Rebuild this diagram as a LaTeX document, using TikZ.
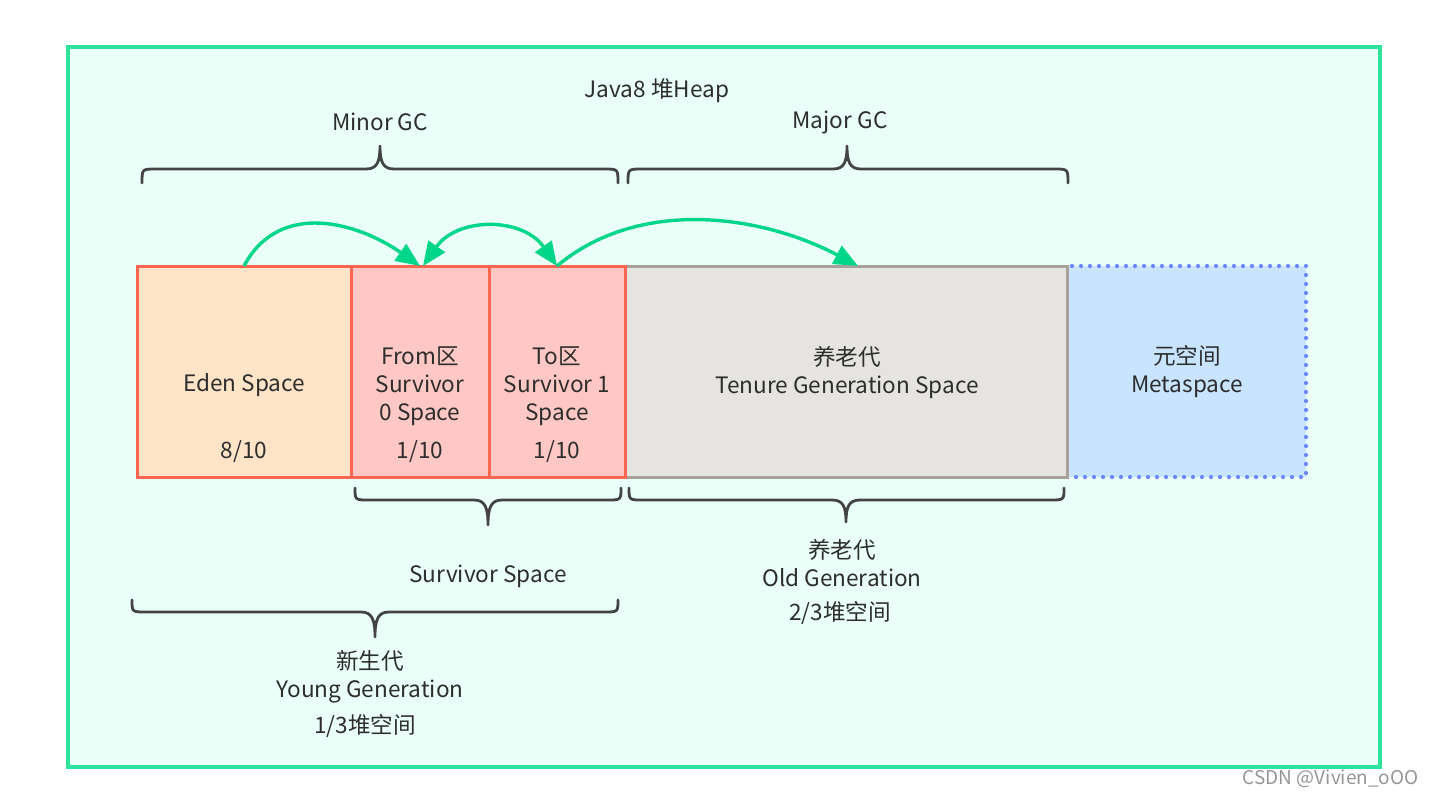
\documentclass[tikz,border=0pt]{standalone}
\usepackage{fontspec}
\setmainfont{Noto Sans CJK SC}
\usetikzlibrary{arrows.meta,calc}
\definecolor{frameg}{RGB}{46,228,156}
\definecolor{framebg}{RGB}{235,255,249}
\definecolor{redl}{RGB}{255,102,82}
\definecolor{edenf}{RGB}{255,228,200}
\definecolor{survf}{RGB}{255,200,196}
\definecolor{tenf}{RGB}{230,228,224}
\definecolor{tenl}{RGB}{168,162,155}
\definecolor{metaf}{RGB}{200,228,255}
\definecolor{metal}{RGB}{110,135,255}
\definecolor{arr}{RGB}{0,214,138}
\definecolor{txt}{RGB}{45,45,45}
\definecolor{brc}{RGB}{68,68,68}
\definecolor{wm}{RGB}{150,150,150}
\newcommand\gcbrace[6]{%
  \draw[bracel] (#1,#4) .. controls (#1,#5) .. (#1+14,#5) -- (#2-14,#5)
    .. controls (#2-3,#5) and (#2,{#5+(#6-#5)*0.3}) .. (#2,#6)
    .. controls (#2,{#5+(#6-#5)*0.3}) and (#2+3,#5) .. (#2+14,#5)
    -- (#3-14,#5) .. controls (#3,#5) .. (#3,#4);}
\begin{document}
\begin{tikzpicture}[x=0.5pt,y=-0.5pt,
  lbl/.style={text=txt, font=\fontsize{11.3}{14}\selectfont, align=center, inner sep=0pt},
  region/.style={anchor=north west, inner sep=0pt, outer sep=0pt, line width=1.5pt, minimum height=105.5pt},
  tip/.style={Triangle[length=12pt,width=10pt]},
  gcarrow/.style={draw=arr, line width=1.7pt, -{Triangle[length=12pt,width=10pt]}},
  bracel/.style={draw=brc, line width=1.4pt, line cap=round, line join=round}]
\useasboundingbox (0,0) rectangle (1438,799);
\node[draw=frameg, fill=framebg, line width=2pt, anchor=north west, inner sep=0pt,
  minimum width=656pt, minimum height=360pt] (heap) at (66,45) {};
% regions
\node[region, draw=metal, fill=metaf, dash pattern=on 0pt off 4.5pt, line cap=round, line width=2.1pt,
  minimum width=119.5pt] (meta) at (1067,266) {};
\node[region, draw=tenl, fill=tenf, minimum width=221pt] (ten) at (625,266) {};
\node[region, draw=redl, fill=edenf, minimum width=107pt] (eden) at (137,266) {};
\node[region, draw=redl, fill=survf, minimum width=69pt] (from) at (351,266) {};
\node[region, draw=redl, fill=survf, minimum width=68pt] (to) at (489,266) {};
% texts
\node[lbl] (title) at (657,91) {Java8 堆Heap};
\node[lbl] (minor) at (380,122) {Minor GC};
\node[lbl] (major) at (840,122) {Major GC};
\node[lbl] (edent) at (244,385) {Eden Space};
\node[lbl] (edenr) at (244,452) {8/10};
\node[lbl] (fromt) at (420,386) {From区\\Survivor\\0 Space};
\node[lbl] (fromr) at (420,452) {1/10};
\node[lbl] (tot) at (557,386) {To区\\Survivor 1\\Space};
\node[lbl] (tor) at (557,452) {1/10};
\node[lbl] (tent) at (847,372) {养老代\\Tenure Generation Space};
\node[lbl] (metat) at (1187,372) {元空间\\Metaspace};
\node[lbl] (survt) at (488,576) {Survivor Space};
\node[lbl] (oldt) at (842,563) {养老代\\Old Generation};
\node[lbl] (oldr) at (840,613) {2/3堆空间};
\node[lbl] (youngt) at (370,677) {新生代\\Young Generation};
\node[lbl] (youngr) at (365,726) {1/3堆空间};
\node[text=wm, font=\fontsize{9.5}{11}\selectfont, anchor=east, inner sep=0pt] (wmk) at (1419,779) {CSDN @Vivien\_oOO};
% braces
\gcbrace{142}{380}{618}{183}{169}{146}
\gcbrace{628}{847}{1068}{183}{169}{146}
\gcbrace{355}{488}{621}{488}{500}{525}
\gcbrace{629}{846}{1064}{488}{500}{522}
\gcbrace{132}{375}{618}{600}{612}{637}
% arrows
\coordinate (tenin) at (858,266);
\coordinate (fromin) at (423,266);
\draw[gcarrow, looseness=1.1] (eden.north) to[out=62,in=145] (from.north);
\draw[gcarrow, {Triangle[length=12pt,width=10pt]}-{Triangle[length=12pt,width=10pt]}, looseness=1.15] (fromin) to[out=55,in=125] (to.north);
\draw[gcarrow, looseness=0.92] (to.north) to[out=40,in=152] (tenin);
\end{tikzpicture}
\end{document}
